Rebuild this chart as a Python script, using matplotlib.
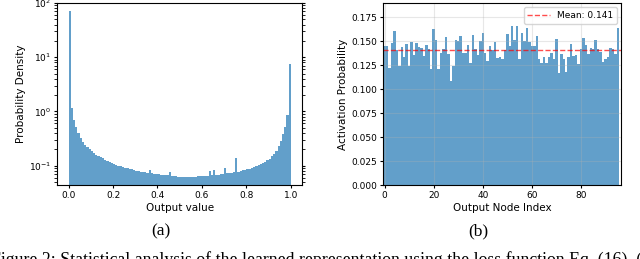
import numpy as np
import matplotlib
matplotlib.use("Agg")
import matplotlib.pyplot as plt

# (a) histogram of output values, 100 bins over [0, 1], density values
bin_edges = np.linspace(0.0, 1.0, 101)
density = [
    70, 1.15, 0.70, 0.52, 0.40, 0.32, 0.27, 0.24, 0.22, 0.20,
    0.185, 0.17, 0.16, 0.152, 0.145, 0.138, 0.127, 0.122, 0.117, 0.112,
    0.107, 0.103, 0.100, 0.097, 0.094, 0.091, 0.089, 0.087, 0.085, 0.083,
    0.081, 0.079, 0.078, 0.076, 0.075, 0.074, 0.084, 0.072, 0.071, 0.070,
    0.069, 0.068, 0.067, 0.066, 0.066, 0.078, 0.065, 0.064, 0.064, 0.063,
    0.063, 0.063, 0.062, 0.063, 0.062, 0.063, 0.063, 0.063, 0.064, 0.064,
    0.064, 0.065, 0.065, 0.080, 0.066, 0.082, 0.067, 0.068, 0.069, 0.070,
    0.089, 0.072, 0.073, 0.074, 0.076, 0.138, 0.078, 0.080, 0.082, 0.084,
    0.086, 0.088, 0.091, 0.094, 0.097, 0.101, 0.106, 0.112, 0.118, 0.126,
    0.135, 0.148, 0.165, 0.19, 0.23, 0.29, 0.38, 0.52, 0.85, 7.5,
]

# (b) activation probability per output node
node_prob = [
    0.145, 0.145, 0.122, 0.148, 0.161, 0.141, 0.124, 0.144, 0.134, 0.147,
    0.124, 0.149, 0.136, 0.148, 0.144, 0.143, 0.135, 0.146, 0.142, 0.121,
    0.163, 0.151, 0.121, 0.138, 0.142, 0.154, 0.137, 0.109, 0.124, 0.151,
    0.150, 0.155, 0.138, 0.138, 0.146, 0.127, 0.157, 0.142, 0.136, 0.150,
    0.159, 0.138, 0.129, 0.145, 0.141, 0.149, 0.133, 0.134, 0.131, 0.141,
    0.158, 0.145, 0.166, 0.151, 0.166, 0.132, 0.159, 0.150, 0.164, 0.149,
    0.145, 0.145, 0.156, 0.131, 0.127, 0.134, 0.127, 0.134, 0.138, 0.131,
    0.152, 0.117, 0.137, 0.131, 0.118, 0.134, 0.147, 0.135, 0.136, 0.126,
    0.142, 0.153, 0.146, 0.137, 0.143, 0.142, 0.151, 0.142, 0.139, 0.128,
    0.132, 0.134, 0.143, 0.142, 0.137, 0.164,
]
mean_prob = 0.141

bar_color = "tab:blue"

fig = plt.figure(figsize=(6.4, 2.59), dpi=100)
ax1 = fig.add_axes([0.0898, 0.2857, 0.382, 0.703])
ax2 = fig.add_axes([0.599, 0.2857, 0.372, 0.703])

# left: log-scale histogram
ax1.bar(bin_edges[:-1], density, width=np.diff(bin_edges), align="edge",
        color=bar_color, alpha=0.7)
ax1.set_yscale("log")
ax1.set_ylim(0.044, 100)
ax1.set_xlim(-0.05, 1.05)
ax1.set_xticks([0.0, 0.2, 0.4, 0.6, 0.8, 1.0])
ax1.set_xlabel("Output value", fontsize=7.5, labelpad=2)
ax1.set_ylabel("Probability Density", fontsize=7.5, labelpad=2)
ax1.tick_params(labelsize=6.5, pad=2, length=2.5)
ax1.tick_params(axis="y", which="both", right=True)

# right: per-node activation probability
nodes = np.arange(len(node_prob))
ax2.bar(nodes, node_prob, width=1.0, color=bar_color, alpha=0.7)
ax2.axhline(mean_prob, color="red", linestyle="--", linewidth=1, alpha=0.7,
            label=f"Mean: {mean_prob:.3f}")
ax2.set_xlim(-0.5, 96.5)
ax2.set_ylim(0, 0.19)
ax2.set_xticks([0, 20, 40, 60, 80])
ax2.set_yticks(np.arange(0, 0.176, 0.025))
ax2.yaxis.set_major_formatter(matplotlib.ticker.FormatStrFormatter("%.3f"))
ax2.grid(True, alpha=0.3)
ax2.set_xlabel("Output Node Index", fontsize=7.5, labelpad=2)
ax2.set_ylabel("Activation Probability", fontsize=7.5, labelpad=2)
ax2.tick_params(labelsize=6.5, pad=2, length=2.5)
ax2.legend(loc="upper right", fontsize=6.5, handlelength=2.5, borderpad=0.4)

# sub-figure labels and the (cut) caption line
fig.text(0.2516, 0.106, "(a)", ha="center", va="center",
         fontsize=12.5, family="Liberation Serif")
fig.text(0.747, 0.106, "(b)", ha="center", va="center",
         fontsize=12.5, family="Liberation Serif")
fig.text(-0.014, -0.023,
         "Figure 2: Statistical analysis of the learned representation using the loss function Eq. (16). (",
         ha="left", va="baseline", fontsize=12.8, family="Liberation Serif")

fig.savefig("out.png", dpi=100)
